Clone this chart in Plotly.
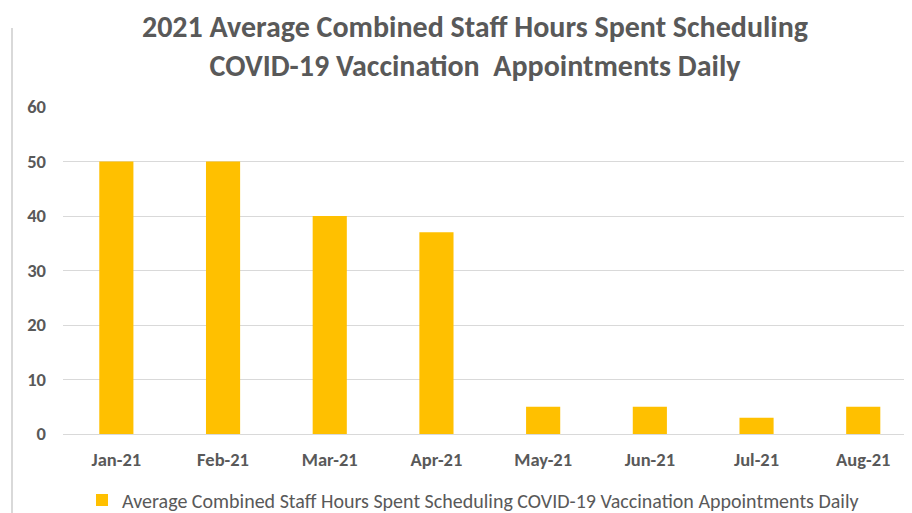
import plotly.graph_objects as go

months = ["Jan-21", "Feb-21", "Mar-21", "Apr-21", "May-21", "Jun-21", "Jul-21", "Aug-21"]
hours = [50, 50, 40, 37, 5, 5, 3, 5]
series_name = "Average Combined Staff Hours Spent Scheduling COVID-19 Vaccination Appointments Daily"
y_ticks = [0, 10, 20, 30, 40, 50, 60]

FONT = "Carlito, Lato, sans-serif"
GRAY = "#595959"

fig = go.Figure()
fig.add_trace(go.Bar(x=months, y=hours, name=series_name, marker_color="#FFC000",
                     marker_line_width=0, showlegend=True))

# page body has an 8px margin, so the figure is sized/offset to compensate
W, H = 904, 505
L, R, T, B = 55, 0, 99, 79
pw = W - L - R
fig.update_layout(
    width=W, height=H,
    margin=dict(l=L, r=R, t=T, b=B, pad=0, autoexpand=False),
    paper_bgcolor="white", plot_bgcolor="white",
    bargap=0.68,
    font=dict(family=FONT, color=GRAY, size=15),
    title=dict(text="2021 Average Combined Staff Hours Spent Scheduling<br>COVID-19 Vaccination  Appointments Daily",
               x=467 / W, xref="container", xanchor="center", yref="container",
               y=1 - 29 / H, yanchor="middle",
               font=dict(size=30, color=GRAY, family=FONT, weight="bold")),
    xaxis=dict(range=[-0.5, 7.457], showgrid=False, showline=False, ticks="",
               tickfont=dict(size=18.5, color=GRAY, family=FONT, weight="bold"), ticklabelstandoff=12),
    yaxis=dict(range=[0, 60], tickvals=y_ticks, showgrid=True, gridcolor="#D9D9D9", gridwidth=1,
               zeroline=True, zerolinecolor="#D9D9D9", zerolinewidth=1, showline=False, ticks="",
               tickfont=dict(size=18.5, color=GRAY, family=FONT, weight="bold"), ticklabelstandoff=16),
    legend=dict(orientation="h", xref="container", x=74 / W, xanchor="left",
                yref="container", y=13 / H, yanchor="middle",
                font=dict(size=20, color=GRAY, family=FONT), itemwidth=30),
)
fig.add_shape(type="line", xref="paper", yref="paper",
              x0=(4 - L) / pw, x1=(4 - L) / pw, y0=-B / (H - T - B), y1=(H - T) / (H - T - B),
              line=dict(color="#D9D9D9", width=2))
fig.write_html("out.html")
